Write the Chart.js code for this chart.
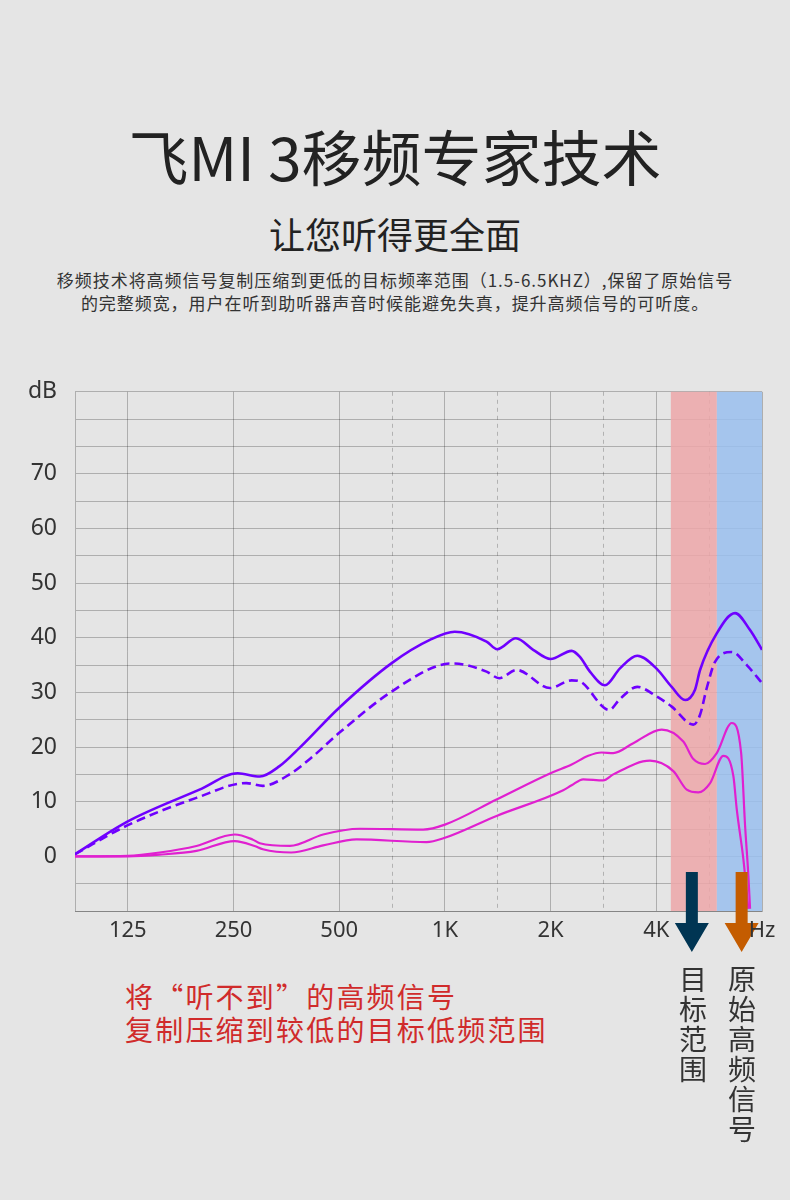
<!DOCTYPE html>
<html>
<head>
<meta charset="utf-8">
<script src="https://cdn.jsdelivr.net/npm/chart.js@4.4.0/dist/chart.umd.min.js"></script>
<style>
  html, body { margin: 0; padding: 0; background: #e5e5e5; }
  body { width: 790px; height: 1200px; position: relative; overflow: hidden;
         font-family: "Noto Sans CJK SC", sans-serif; color: #222; }
  .abs { position: absolute; }
  #title { top: 122px; left: 0; width: 790px; text-align: center; font-size: 60px; line-height: 66px; }
  #subtitle { top: 213px; left: 0; width: 790px; text-align: center; font-size: 36px; line-height: 40px; }
  #desc { top: 268px; left: 0; width: 790px; text-align: center; font-size: 17px; line-height: 23px;
          letter-spacing: 0.95px; color: #333; }
  #chartBox { top: 360px; left: 0; width: 790px; height: 610px; }
  #note { top: 980px; left: 125px; font-size: 28px; line-height: 33px; color: #d02b2b; letter-spacing: 2.2px; }
  .vert { top: 965px; font-size: 28px; line-height: 28px; width: 28px; writing-mode: vertical-rl;
          letter-spacing: 2px; color: #333; }
</style>
</head>
<body>
<div id="title" class="abs">飞MI 3移频专家技术</div>
<div id="subtitle" class="abs">让您听得更全面</div>
<div id="desc" class="abs">移频技术将高频信号复制压缩到更低的目标频率范围（1.5-6.5KHZ）,保留了原始信号<br>的完整频宽，用户在听到助听器声音时候能避免失真，提升高频信号的可听度。</div>
<div id="chartBox" class="abs"><canvas id="chart" width="790" height="610"></canvas></div>
<div id="note" class="abs">将“听不到”的高频信号<br>复制压缩到较低的目标低频范围</div>
<div class="abs vert" style="left:679px">目标范围</div>
<div class="abs vert" style="left:728px">原始高频信号</div>

<script>
// axis ticks
const freqTicks = [125, 250, 500, 1000, 2000, 4000, 8000];
const freqLabels = ["125", "250", "500", "1K", "2K", "4K", "Hz"];
const halfOctaveTicks = [707, 1414, 2828, 5657];
const xMin = 88.4;
const xMax = 8000;
const dbLabelTicks = [0, 10, 20, 30, 40, 50, 60, 70];
const dbUnitAt = 85;

// frequency bands (Hz) and arrow positions
const bandTarget = [4400, 5950];
const bandOriginal = [5950, 8000];
const arrowFreq = [5050, 7000];

// purple solid
const solidFreq = [88.4, 125, 200, 257, 297, 338, 386, 500, 707, 906, 1067, 1314, 1409, 1593, 1784, 2000, 2296, 2424, 2588, 2856, 3152, 3531, 4000, 4425, 4830, 5156, 5329, 5946, 6705, 7397, 8000];
const solidDb = [0.4, 6.4, 12.2, 15.2, 14.6, 16.5, 19.9, 27.2, 35.4, 39.6, 41.1, 39.3, 37.9, 39.9, 37.8, 36.1, 37.6, 36.5, 33.8, 31.3, 34.4, 36.7, 34.4, 31.0, 28.6, 30.5, 34.1, 40.8, 44.5, 41.4, 37.8];

// purple dashed
const dashedFreq = [88.4, 125, 196, 272, 303, 361, 421, 500, 707, 1000, 1055, 1314, 1427, 1600, 1991, 2296, 2424, 2938, 3152, 3531, 4000, 4425, 5100, 5329, 5569, 5879, 6561, 7240, 8000];
const dashedDb = [0.4, 5.7, 10.7, 13.4, 12.9, 15.0, 18.3, 22.6, 30.2, 35.2, 35.3, 33.8, 32.6, 34.1, 30.8, 32.2, 32.0, 26.8, 28.8, 31.0, 29.3, 27.4, 24.1, 25.9, 30.8, 35.6, 37.4, 35.0, 31.7];

// magenta upper
const upperFreq = [88.4, 125, 154, 196, 252, 283, 297, 362, 450, 572, 867, 1000, 1403, 2013, 2296, 2560, 2795, 3016, 3439, 4144, 4775, 5100, 5506, 5946, 6561, 6975, 7160, 7316, 7397];
const upperDb = [0, 0.1, 0.7, 1.9, 4.0, 3.1, 2.4, 1.9, 4.0, 5.05, 4.9, 5.8, 10.4, 15.3, 16.8, 18.4, 19.0, 18.9, 20.7, 23.2, 21.0, 17.8, 16.9, 18.9, 24.4, 19.0, 5.6, -3.5, -9.6];

// magenta lower
const lowerFreq = [88.4, 125, 154, 196, 252, 287, 303, 365, 450, 560, 886, 1000, 1403, 2172, 2296, 2477, 2825, 3016, 3838, 4472, 4884, 5271, 5692, 6209, 6630, 6780, 7080, 7316];
const lowerDb = [0, 0, 0.3, 1.0, 2.8, 1.9, 1.3, 0.7, 2.0, 3.1, 2.6, 3.4, 7.4, 12.1, 13.0, 14.1, 13.9, 15.0, 17.5, 15.6, 12.2, 11.7, 13.4, 18.4, 14.7, 8.6, -0.5, -9.6];

function toPoints(xs, ys) {
  return xs.map((x, i) => ({ x: x, y: ys[i] }));
}

const gridColor = "rgba(0,0,0,0.24)";

const bandsPlugin = {
  id: "bands",
  beforeDatasetsDraw(chart) {
    const { ctx, chartArea, scales } = chart;
    ctx.save();
    [[bandTarget, "rgba(237,167,169,0.85)"], [bandOriginal, "rgba(154,191,238,0.85)"]].forEach(([b, c]) => {
      const x0 = scales.x.getPixelForValue(b[0]);
      const x1 = scales.x.getPixelForValue(b[1]);
      ctx.fillStyle = c;
      ctx.fillRect(x0, chartArea.top, x1 - x0, chartArea.bottom - chartArea.top);
    });
    ctx.restore();
  },
  afterDatasetsDraw(chart) {
    const { ctx, chartArea, scales } = chart;
    const colors = ["#003553", "#c45c00"];
    const b = chartArea.bottom;
    ctx.save();
    arrowFreq.forEach((f, i) => {
      const cx = scales.x.getPixelForValue(f);
      ctx.fillStyle = colors[i];
      ctx.beginPath();
      ctx.moveTo(cx - 6, b - 39);
      ctx.lineTo(cx + 6, b - 39);
      ctx.lineTo(cx + 6, b + 12);
      ctx.lineTo(cx + 17, b + 12);
      ctx.lineTo(cx, b + 41);
      ctx.lineTo(cx - 17, b + 12);
      ctx.lineTo(cx - 6, b + 12);
      ctx.closePath();
      ctx.fill();
    });
    ctx.restore();
  },
};

const ctx = document.getElementById("chart");

const chart = new Chart(ctx, {
  type: "line",
  data: {
    datasets: [
      {
        data: toPoints(solidFreq, solidDb),
        borderColor: "#6f00ff",
        borderWidth: 2.6,
      },
      {
        data: toPoints(dashedFreq, dashedDb),
        borderColor: "#6f00ff",
        borderWidth: 2.6,
        borderDash: [9, 5],
      },
      {
        data: toPoints(upperFreq, upperDb),
        borderColor: "#e020d0",
        borderWidth: 2.2,
      },
      {
        data: toPoints(lowerFreq, lowerDb),
        borderColor: "#e020d0",
        borderWidth: 2.2,
      },
    ],
  },
  options: {
    responsive: false,
    animation: false,
    layout: { padding: { top: 31, right: 28, bottom: 0, left: 0 } },
    elements: {
      point: { radius: 0 },
      line: { cubicInterpolationMode: "monotone", fill: false },
    },
    scales: {
      x: {
        type: "logarithmic",
        min: xMin,
        max: xMax,
        afterBuildTicks: (s) => {
          s.ticks = freqTicks.concat(halfOctaveTicks).sort((a, b) => a - b).map((v) => ({ value: v }));
        },
        afterFit: (s) => { s.height = 59; },
        ticks: {
          callback: (v) => {
            const i = freqTicks.indexOf(v);
            return i >= 0 ? freqLabels[i] : "";
          },
          autoSkip: false,
          maxRotation: 0,
          padding: 7,
          color: "#333",
          font: { family: "Noto Sans", size: 22 },
          z: 1,
        },
        grid: {
          drawTicks: false,
          color: (c) => (c.tick && halfOctaveTicks.includes(c.tick.value) ? "rgba(0,0,0,0.22)" : gridColor),
          lineWidth: 1,
        },
        border: {
          color: gridColor,
          dash: (c) => (c.tick && halfOctaveTicks.includes(c.tick.value) ? [4, 4] : []),
        },
      },
      y: {
        min: -10,
        max: 85,
        afterFit: (s) => { s.width = 75; },
        ticks: {
          stepSize: 5,
          autoSkip: false,
          padding: 18,
          color: "#333",
          font: { family: "Noto Sans", size: 23 },
          callback: (v) => (v === dbUnitAt ? "dB" : dbLabelTicks.includes(v) ? String(v) : ""),
        },
        grid: { drawTicks: false, color: gridColor, lineWidth: 1 },
        border: { color: gridColor },
      },
    },
    plugins: {
      legend: { display: false },
      tooltip: { enabled: false },
    },
  },
  plugins: [bandsPlugin],
});
</script>
</body>
</html>
